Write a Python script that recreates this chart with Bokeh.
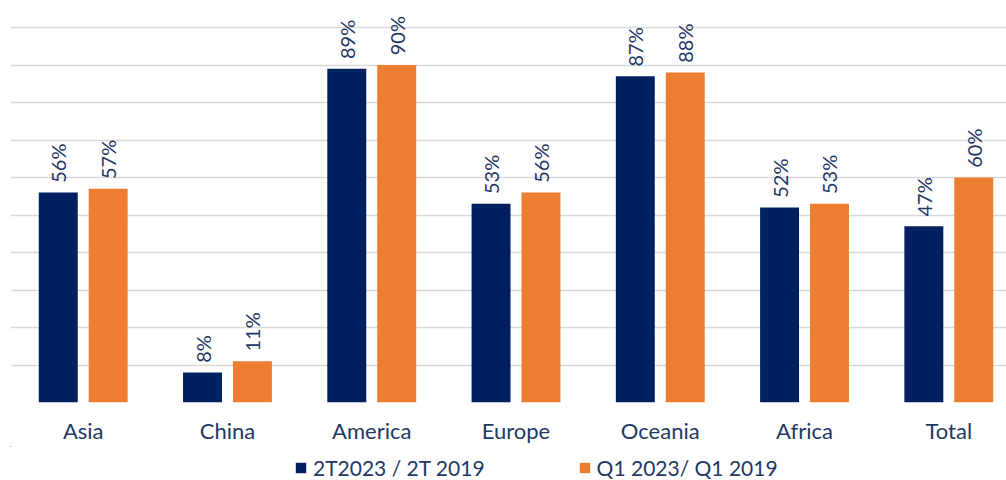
import numpy as np
from bokeh.plotting import figure
from bokeh.layouts import column
from bokeh.models import Range1d, FixedTicker, Legend, LegendItem
from bokeh.embed import file_html
from bokeh.resources import INLINE
from bokeh.core.properties import value

categories = ["Asia", "China", "America", "Europe", "Oceania", "Africa", "Total"]
series_2t = [56, 8, 89, 53, 87, 52, 47]
series_q1 = [57, 11, 90, 56, 88, 53, 60]
series_names = ["2T2023 / 2T 2019", "Q1 2023/ Q1 2019"]
grid_ticks = [0, 10, 20, 30, 40, 50, 60, 70, 80, 90, 100]

NAVY = "#002060"
ORANGE = "#ED7D31"
TEXT = "#1F3864"
FONT = "Lato"

x = np.arange(len(categories))
off = 0.173
bw = 0.27

p = figure(width=1006, height=446, output_backend="svg", toolbar_location=None,
           x_range=Range1d(-0.504, 6.40), y_range=Range1d(0, 107.2),
           min_border_left=10, min_border_right=0, min_border_top=0,
           min_border_bottom=44)
p.outline_line_color = None
p.background_fill_color = "white"
p.border_fill_color = "white"

r1 = p.vbar(x=x - off, top=series_2t, width=bw, fill_color=NAVY, line_color=None)
r2 = p.vbar(x=x + off, top=series_q1, width=bw, fill_color=ORANGE, line_color=None)

for xs, vals in ((x - off, series_2t), (x + off, series_q1)):
    p.text(x=xs, y=np.array(vals) + 2.6, text=[f"{v}%" for v in vals],
           angle=np.pi / 2, text_align="left", text_baseline="middle",
           text_font=value(FONT), text_font_size="20px", text_color=TEXT)

p.yaxis.visible = False
p.xgrid.visible = False
p.ygrid.ticker = FixedTicker(ticks=grid_ticks)
p.ygrid.grid_line_color = "#D9D9D9"
p.ygrid.grid_line_width = 1.3

ax = p.xaxis[0]
ax.ticker = FixedTicker(ticks=[int(i) for i in x])
ax.major_label_overrides = {int(i): c for i, c in zip(x, categories)}
ax.axis_line_color = None
ax.major_tick_line_color = None
ax.minor_tick_line_color = None
ax.major_tick_out = 0
ax.major_tick_in = 0
ax.major_label_standoff = 14
ax.major_label_text_font = FONT
ax.major_label_text_font_size = "22px"
ax.major_label_text_color = TEXT

# legend strip (its glyphs repeat the bars, kept outside its visible range)
lg = figure(width=1006, height=34, output_backend="svg", toolbar_location=None,
            x_range=Range1d(10, 11), y_range=Range1d(-2, -1),
            min_border_left=0, min_border_right=0, min_border_top=0,
            min_border_bottom=0, x_axis_location=None, y_axis_location=None)
lg.outline_line_color = None
lg.xgrid.visible = False
lg.ygrid.visible = False
d1 = lg.vbar(x=x - off, top=series_2t, width=bw, fill_color=NAVY, line_color=None)
d2 = lg.vbar(x=x + off, top=series_q1, width=bw, fill_color=ORANGE, line_color=None)
legend = Legend(items=[LegendItem(label=series_names[0], renderers=[d1]),
                       LegendItem(label=series_names[1], renderers=[d2])],
                orientation="horizontal", location=(284, 0),
                glyph_width=13, glyph_height=13, label_standoff=6, spacing=93,
                padding=0, margin=0, border_line_color=None,
                background_fill_alpha=0, label_height=21,
                label_text_font=FONT, label_text_font_size="21px",
                label_text_color=TEXT)
lg.add_layout(legend)

layout = column(p, lg, spacing=0)
open("out.html", "w").write(file_html(layout, INLINE))
